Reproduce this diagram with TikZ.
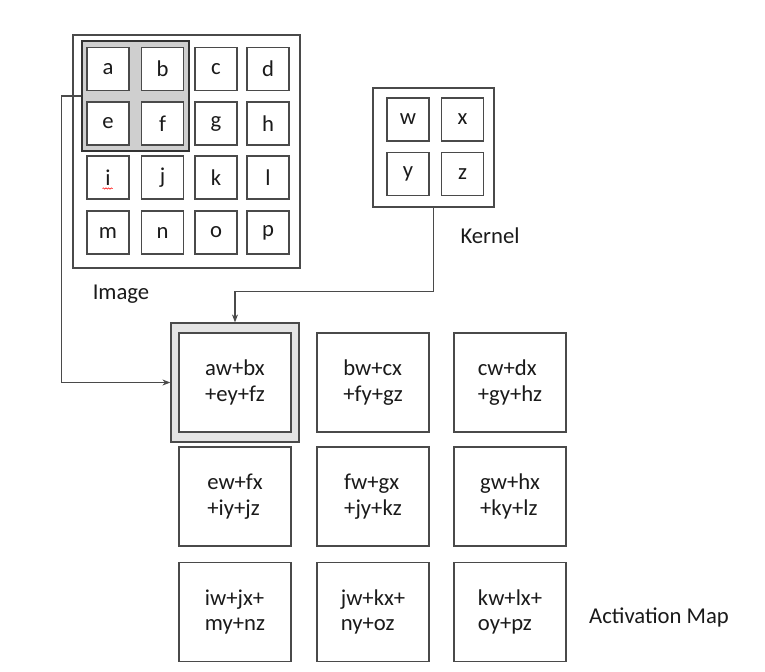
\documentclass[tikz,border=0pt]{standalone}
\usepackage{fontspec}
\setmainfont{Carlito}
\usetikzlibrary{arrows.meta,decorations.pathmorphing}
\definecolor{linegray}{HTML}{4A4A4A}
\definecolor{hlgray}{HTML}{CFCFCF}
\definecolor{actgray}{HTML}{E4E4E4}
\definecolor{txt}{HTML}{1A1A1A}
\begin{document}
\begin{tikzpicture}[x=0.75pt,y=-0.75pt,
  every node/.style={font=\fontsize{17}{19}\selectfont, text=txt},
  cell/.style={draw=linegray, fill=white, line width=0.8pt, minimum width=31.5pt, minimum height=32.25pt, inner sep=0pt},
  frame/.style={draw=linegray, line width=0.9pt, inner sep=0pt},
  actbox/.style={draw=linegray, fill=white, line width=0.9pt, minimum width=84pt, minimum height=74.25pt, inner sep=0pt, align=left},
  conn/.style={draw=linegray, line width=0.8pt},
  tip/.style={-{Stealth[length=6pt,width=4.5pt]}},
  lbl/.style={inner sep=0pt}]
\useasboundingbox[fill=white] (0,0) rectangle (765,672);

% Image
\node[frame, minimum width=170.25pt, minimum height=174.75pt] (img) at (186.5,151.5) {};
\node[frame, draw=black!80, fill=hlgray, minimum width=80.25pt, minimum height=82.5pt] (hl) at (135.5,96) {};
\node[cell] (ca) at (108,69) {a};
\node[cell] (cb) at (162.5,69) {b};
\node[cell] (cc) at (216,69) {c};
\node[cell] (cd) at (268,69) {d};
\node[cell] (ce) at (108,123.5) {e};
\node[cell] (cf) at (162.5,123.5) {f};
\node[cell] (cg) at (216,123.5) {g};
\node[cell] (ch) at (268,123.5) {h};
\node[cell] (ci) at (108,177.5) {i};
\node[cell] (cj) at (162.5,177.5) {j};
\node[cell] (ck) at (216,177.5) {k};
\node[cell] (cl) at (268,177.5) {l};
\node[cell] (cm) at (108,232.5) {m};
\node[cell] (cn) at (162.5,232.5) {n};
\node[cell] (co) at (216,232.5) {o};
\node[cell] (cp) at (268,232.5) {p};
\draw[red, line width=0.4pt, decorate, decoration={snake, amplitude=0.5pt, segment length=2pt}] (102.5,188.5) -- (112.5,188.5);
\node[lbl] (imglbl) at (121,294) {Image};

% Kernel
\node[frame, minimum width=90.75pt, minimum height=89.25pt] (kern) at (433.5,147.5) {};
\node[cell] (kw) at (408,119.5) {w};
\node[cell] (kx) at (462.5,119.5) {x};
\node[cell] (ky) at (408,174) {y};
\node[cell] (kz) at (462.5,174) {z};
\node[lbl] (kernlbl) at (490,236) {Kernel};

% Activation map
\node[frame, fill=actgray, minimum width=96pt, minimum height=89.25pt] (acthl) at (235,382.5) {};
\node[actbox] (a11) at (235,382.5) {aw+bx\\+ey+fz};
\node[actbox] (a12) at (373,382.5) {bw+cx\\+fy+gz};
\node[actbox] (a13) at (510,382.5) {cw+dx\\+gy+hz};
\node[actbox] (a21) at (235,496.5) {ew+fx\\+iy+jz};
\node[actbox] (a22) at (373,496.5) {fw+gx\\+jy+kz};
\node[actbox] (a23) at (510,496.5) {gw+hx\\+ky+lz};
\node[actbox] (a31) at (235,612) {iw+jx+\\my+nz};
\node[actbox] (a32) at (373,612) {jw+kx+\\ny+oz};
\node[actbox] (a33) at (510,612) {kw+lx+\\oy+pz};
\node[lbl] (actlbl) at (659,617) {Activation Map};

% Connectors
\draw[conn, tip] (hl.west) -- ++(-20,0) |- (acthl.west);
\draw[conn, tip] (kern.south) -- ++(0,84) -| (acthl.north);
\end{tikzpicture}
\end{document}
